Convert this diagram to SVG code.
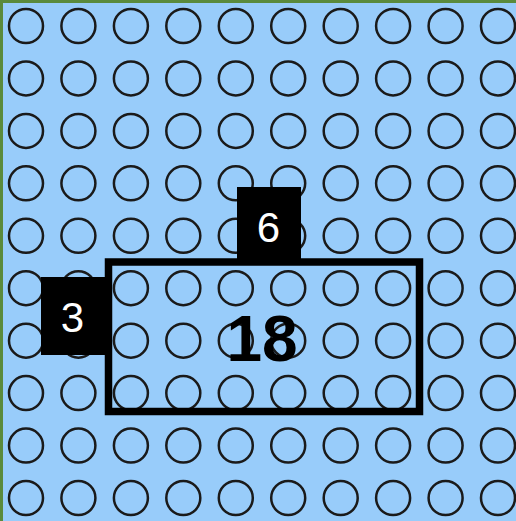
<svg xmlns="http://www.w3.org/2000/svg" xmlns:xlink="http://www.w3.org/1999/xlink" width="516" height="521" viewBox="0 0 516 521">
<style>
.dot{fill:none;stroke:#1a1a1a;stroke-width:2.5}
.lbl{fill:#000}
.lt{font-family:"Liberation Sans",Arial,sans-serif;font-size:42px;fill:#fff;text-anchor:middle}
.big{font-family:"Liberation Sans",Arial,sans-serif;font-size:64px;font-weight:bold;fill:#000;text-anchor:middle}
</style>
<defs>
<circle id="c" r="17" class="dot"/>
<g id="row">
<use xlink:href="#c" x="26"/><use xlink:href="#c" x="78.4"/><use xlink:href="#c" x="130.9"/><use xlink:href="#c" x="183.3"/><use xlink:href="#c" x="235.8"/><use xlink:href="#c" x="288.2"/><use xlink:href="#c" x="340.7"/><use xlink:href="#c" x="393.1"/><use xlink:href="#c" x="445.6"/><use xlink:href="#c" x="498"/>
</g>
</defs>
<rect x="0" y="0" width="516" height="521" fill="#5a8a3c"/>
<rect x="3" y="3" width="513" height="518" fill="#98ccfa"/>
<g id="grid">
<use xlink:href="#row" y="26"/><use xlink:href="#row" y="78.4"/><use xlink:href="#row" y="130.9"/><use xlink:href="#row" y="183.3"/><use xlink:href="#row" y="235.8"/><use xlink:href="#row" y="288.2"/><use xlink:href="#row" y="340.7"/><use xlink:href="#row" y="393.1"/><use xlink:href="#row" y="445.6"/><use xlink:href="#row" y="498"/>
</g>
<g id="area">
<rect x="108.5" y="262" width="311" height="149.5" fill="none" stroke="#000" stroke-width="7.5"/>
<text class="big" x="262" y="361">18</text>
</g>
<g id="label-6">
<rect class="lbl" x="237" y="187" width="64" height="75"/>
<text class="lt" x="268.5" y="242">6</text>
</g>
<g id="label-3">
<rect class="lbl" x="41" y="277" width="64" height="78"/>
<text class="lt" x="72.5" y="332">3</text>
</g>
<g id="connectors"/>
</svg>
